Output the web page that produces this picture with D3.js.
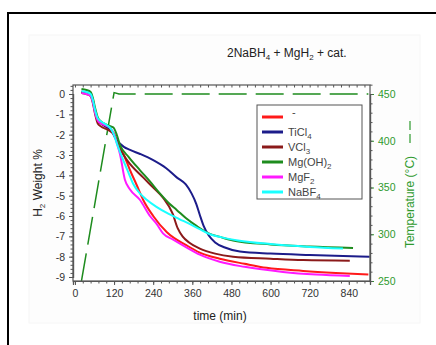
<!DOCTYPE html>
<html><head><meta charset="utf-8">
<script src="https://cdn.jsdelivr.net/npm/d3@7"></script>
<style>body{margin:0;background:#fff}svg{display:block}text{font-family:"Liberation Sans",Arial,sans-serif}</style>
</head><body><svg id="c" width="436" height="345"></svg>
<script>
// ---- data ----
const seriesNames = ["-", "TiCl4", "VCl3", "Mg(OH)2", "MgF2", "NaBF4"];
const seriesColors = ["#ff1a1a", "#1c1c8a", "#8b1a1a", "#1e8c1e", "#ff1aff", "#1affff"];
const noCat = [[20,0.12],[35,0.08],[48,0.0],[55,-0.3],[62,-0.85],[70,-1.3],[80,-1.45],[95,-1.6],[110,-1.75],[120,-1.95],[130,-2.4],[150,-3.0],[169,-3.75],[190,-4.5],[209,-5.2],[240,-6.0],[282,-6.8],[343,-7.45],[383,-7.8],[444,-8.1],[520,-8.35],[588,-8.55],[700,-8.7],[800,-8.8],[900,-8.88]];
const ticl4 = [[20,0.1],[35,0.05],[48,-0.05],[55,-0.35],[62,-0.9],[70,-1.3],[80,-1.45],[95,-1.6],[110,-1.75],[125,-2.2],[150,-2.6],[169,-2.75],[200,-2.95],[240,-3.25],[280,-3.65],[312,-4.1],[340,-4.45],[358,-4.9],[372,-5.4],[383,-5.95],[395,-6.5],[410,-6.95],[430,-7.3],[460,-7.55],[506,-7.75],[600,-7.85],[720,-7.92],[904,-8.0]];
const vcl3 = [[20,0.05],[35,0.0],[48,-0.1],[55,-0.45],[62,-1.0],[70,-1.45],[80,-1.6],[95,-1.72],[110,-1.85],[120,-2.0],[135,-2.6],[162,-3.3],[209,-4.1],[240,-4.6],[270,-5.1],[300,-5.9],[315,-6.6],[330,-7.0],[350,-7.3],[383,-7.6],[430,-7.85],[485,-8.0],[600,-8.1],[700,-8.17],[843,-8.2]];
const mgoh2 = [[20,0.25],[35,0.2],[48,0.1],[55,-0.2],[62,-0.7],[70,-1.15],[80,-1.35],[95,-1.5],[110,-1.6],[118,-1.65],[128,-2.0],[138,-2.5],[165,-3.1],[199,-3.74],[230,-4.3],[261,-4.9],[290,-5.4],[312,-5.7],[340,-6.1],[374,-6.5],[410,-6.85],[450,-7.05],[485,-7.2],[600,-7.4],[720,-7.5],[853,-7.57]];
const mgf2 = [[20,0.05],[35,0.0],[48,-0.1],[55,-0.4],[62,-0.95],[70,-1.3],[80,-1.45],[95,-1.55],[110,-1.7],[120,-2.0],[130,-2.5],[138,-2.95],[153,-4.2],[169,-4.7],[199,-5.2],[230,-6.0],[251,-6.4],[270,-6.85],[300,-7.15],[343,-7.55],[383,-7.9],[444,-8.25],[520,-8.5],[638,-8.75],[740,-8.88],[843,-8.95]];
const nabf4 = [[20,0.15],[35,0.1],[48,0.0],[55,-0.3],[62,-0.8],[70,-1.2],[80,-1.35],[95,-1.5],[110,-1.7],[117,-1.9],[130,-2.5],[148,-3.25],[165,-3.9],[178,-4.4],[200,-4.9],[220,-5.2],[250,-5.55],[282,-5.85],[320,-6.15],[353,-6.4],[383,-6.65],[414,-6.9],[450,-7.05],[500,-7.2],[600,-7.38],[720,-7.52],[822,-7.6]];
const temperature = [[20,250],[120,451.5],[135,450],[900,450]];
const xTicks = [0,120,240,360,480,600,720,840];
const yTicks = [0,-1,-2,-3,-4,-5,-6,-7,-8,-9];
const tTicks = [250,300,350,400,450];

// ---- chart ----
const svg = d3.select("#c");
const L = 73, R = 370, T = 85, B = 281;
const x = d3.scaleLinear().domain([-6, 905]).range([L, R]);
const y = d3.scaleLinear().domain([-9, 0]).range([277, 94]);
const yT = d3.scaleLinear().domain([250, 450]).range([281, 94]);

// frames
svg.append("rect").attr("x",29).attr("y",35).attr("width",391).attr("height",288).attr("fill","#fdfdfd").attr("stroke","#f6f6f6");
svg.append("rect").attr("x",8).attr("y",13).attr("width",440).attr("height",350).attr("fill","none").attr("stroke","#000").attr("stroke-width",2);
svg.append("rect").attr("x",L).attr("y",T).attr("width",R-L).attr("height",B-T).attr("fill","#fff");

// title
const title = svg.append("text").attr("x",227).attr("y",57).attr("font-size",12).attr("fill","#222");
title.append("tspan").text("2NaBH");
title.append("tspan").attr("font-size",8).attr("dy",3).text("4");
title.append("tspan").attr("dy",-3).text(" + MgH");
title.append("tspan").attr("font-size",8).attr("dy",3).text("2");
title.append("tspan").attr("dy",-3).text(" + cat.");

svg.append("defs").append("clipPath").attr("id","clip").append("rect").attr("x",L).attr("y",T).attr("width",R-L).attr("height",B-T);
const plot = svg.append("g").attr("clip-path","url(#clip)");

// temperature
plot.append("path").datum(temperature)
  .attr("d", d3.line().x(d=>x(d[0])).y(d=>yT(d[1])))
  .attr("fill","none").attr("stroke","#1e8c1e").attr("stroke-width",1.5).attr("stroke-dasharray","28,9");

const allSeries = [noCat, ticl4, vcl3, mgoh2, mgf2, nabf4];
const line = d3.line().x(d=>x(d[0])).y(d=>y(d[1])).curve(d3.curveMonotoneX);
allSeries.forEach((s,i)=>{
  plot.append("path").datum(s).attr("d", line).attr("fill","none")
    .attr("stroke", seriesColors[i]).attr("stroke-width",2).attr("stroke-linejoin","round");
});

// axes
const axisColor = "#555";
const gx = svg.append("g").attr("transform",`translate(0,${B})`);
gx.call(d3.axisBottom(x).tickValues(xTicks).tickSize(4).tickPadding(5));
const gxm = svg.append("g").attr("transform",`translate(0,${B})`);
gxm.call(d3.axisBottom(x).tickValues(d3.range(0,905,24)).tickSize(2.5).tickFormat(""));
const gxt = svg.append("g").attr("transform",`translate(0,${T})`);
gxt.call(d3.axisBottom(x).tickValues(d3.range(0,905,24)).tickSize(2.5).tickFormat(""));

const gy = svg.append("g").attr("transform",`translate(${L},0)`);
gy.call(d3.axisLeft(y).tickValues(yTicks).tickSize(4).tickPadding(4).tickFormat(d=>String(d)));
const gym = svg.append("g").attr("transform",`translate(${L},0)`);
gym.call(d3.axisLeft(y).tickValues(d3.range(-9,0.45,0.2)).tickSize(2.5).tickFormat(""));

const gr = svg.append("g").attr("transform",`translate(${R},0)`);
gr.call(d3.axisRight(yT).tickValues(tTicks).tickSize(4).tickPadding(4));
const grm = svg.append("g").attr("transform",`translate(${R},0)`);
grm.call(d3.axisRight(yT).tickValues(d3.range(250,461,10)).tickSize(2.5).tickFormat(""));

[gx,gxm,gxt,gy,gym,gr,grm].forEach(g=>{
  g.select(".domain").attr("stroke",axisColor).attr("stroke-width",1.2);
  g.selectAll(".tick line").attr("stroke",axisColor);
  g.selectAll(".tick text").attr("font-family","Liberation Sans, Arial, sans-serif").attr("font-size",10.5).attr("fill","#333");
});
gxt.select(".domain").remove();
gr.selectAll(".tick text").attr("fill","#2e9a2e");
gr.selectAll(".tick line").attr("stroke","#2e9a2e");
svg.append("rect").attr("x",L).attr("y",T).attr("width",R-L).attr("height",B-T).attr("fill","none").attr("stroke",axisColor).attr("stroke-width",1.2);

// axis labels
svg.append("text").attr("x",220).attr("y",320).attr("text-anchor","middle").attr("font-size",12).attr("fill","#222").text("time (min)");
const yl = svg.append("text").attr("transform","translate(42,183) rotate(-90)").attr("text-anchor","middle").attr("font-size",12).attr("fill","#222");
yl.append("tspan").text("H");
yl.append("tspan").attr("font-size",8).attr("dy",3).text("2");
yl.append("tspan").attr("dy",-3).text(" Weight %");
svg.append("text").attr("transform","translate(414,202) rotate(-90)").attr("text-anchor","middle").attr("font-size",12).attr("fill","#2e9a2e").text("Temperature (°C)");
svg.append("line").attr("x1",410).attr("x2",410).attr("y1",143).attr("y2",120).attr("stroke","#2e9a2e").attr("stroke-width",1.2).attr("stroke-dasharray","9,4");

// legend
const lg = svg.append("g");
lg.append("rect").attr("x",257).attr("y",105).attr("width",105).attr("height",94).attr("fill","#fff").attr("stroke","#555");
const labels = [["-",""],["TiCl","4"],["VCl","3"],["Mg(OH)","2"],["MgF","2"],["NaBF","4"]];
seriesNames.forEach((n,i)=>{
  const yy = 117 + i*15;
  lg.append("line").attr("x1",262).attr("x2",283).attr("y1",yy).attr("y2",yy).attr("stroke",seriesColors[i]).attr("stroke-width",3);
  const t = lg.append("text").attr("x", i===0?292:288).attr("y", i===0?yy-1:yy+4).attr("font-size",11).attr("fill","#444");
  t.append("tspan").text(labels[i][0]);
  if (labels[i][1]) t.append("tspan").attr("font-size",8).attr("dy",3).text(labels[i][1]);
});
</script></body></html>
